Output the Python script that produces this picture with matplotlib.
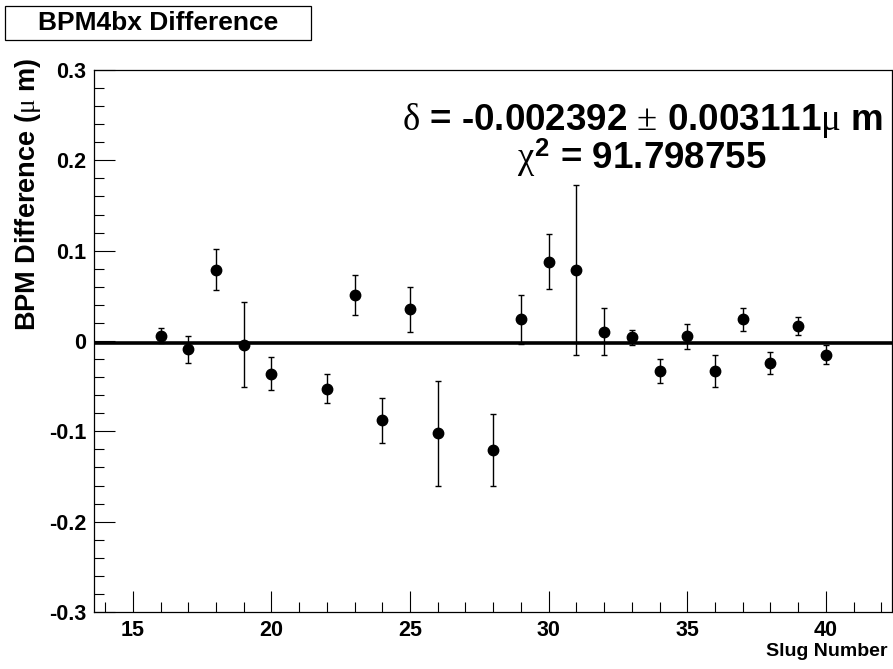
import matplotlib
matplotlib.use("Agg")
import matplotlib.pyplot as plt
from matplotlib.patches import Rectangle
from matplotlib.ticker import MultipleLocator, FixedLocator

# slug data
slug = [16, 17, 18, 19, 20, 22, 23, 24, 25, 26, 28, 29, 30, 31, 32, 33, 34, 35, 36, 37, 38, 39, 40]
diff = [0.006, -0.009, 0.079, -0.004, -0.036, -0.053, 0.051, -0.088, 0.035, -0.102, -0.121,
        0.024, 0.088, 0.079, 0.010, 0.004, -0.033, 0.005, -0.033, 0.024, -0.024, 0.017, -0.015]
err = [0.008, 0.015, 0.023, 0.047, 0.018, 0.016, 0.022, 0.025, 0.025, 0.058, 0.040,
       0.027, 0.030, 0.094, 0.026, 0.008, 0.013, 0.014, 0.018, 0.013, 0.012, 0.010, 0.011]
fit_mean = -0.002392
fit_err = 0.003111
chi2 = 91.798755

y_ticks = [-0.3, -0.2, -0.1, 0, 0.1, 0.2, 0.3]
y_labels = ["-0.3", "-0.2", "-0.1", "0", "0.1", "0.2", "0.3"]
x_ticks = [15, 20, 25, 30, 35, 40]

plt.rcParams["font.family"] = "Liberation Sans"
plt.rcParams["mathtext.fontset"] = "custom"
plt.rcParams["mathtext.rm"] = "Liberation Serif:normal"
plt.rcParams["mathtext.it"] = "Liberation Serif:normal"
plt.rcParams["mathtext.bf"] = "Liberation Sans:bold"

W, H = 893, 669
fig = plt.figure(figsize=(W / 100, H / 100), dpi=100)
ax = fig.add_axes([93.5 / W, 1 - 612 / H, (891.5 - 93.5) / W, (612 - 70) / H])

ax.errorbar(slug, diff, yerr=err, fmt="o", color="black", ms=7.5, elinewidth=1,
            capsize=2.5, capthick=1)
ax.axhline(fit_mean, color="black", lw=2.6, zorder=1)

ax.set_xlim(13.58, 42.37)
ax.set_ylim(-0.3, 0.3)
ax.xaxis.set_major_locator(FixedLocator(x_ticks))
ax.xaxis.set_minor_locator(MultipleLocator(1))
ax.set_yticks(y_ticks)
ax.set_yticklabels(y_labels)
ax.yaxis.set_minor_locator(MultipleLocator(0.02))
ax.tick_params(which="both", direction="in", top=False, right=False, width=0.8,
               labelsize=15.5)
ax.tick_params(which="major", length=15)
ax.tick_params(which="minor", length=7.5)
ax.tick_params(axis="y", pad=5)
ax.tick_params(axis="x", pad=6)
for lbl in ax.get_xticklabels() + ax.get_yticklabels():
    lbl.set_fontweight("bold")
for s in ax.spines.values():
    s.set_linewidth(0.9)

fig.text(888 / W, 1 - 652 / H, "Slug Number", ha="right", va="center", fontsize=14,
         fontweight="bold")
fig.text(28 / W, 1 - 58 / H, r"BPM Difference ($\mu$ m)", rotation=90, ha="center",
         va="top", fontsize=19.5, fontweight="bold")

fig.text(642 / W, 1 - 130 / H,
         r"$\delta$ = %.6f $\pm$ %.6f$\mu$ m" % (fit_mean, fit_err),
         ha="center", va="baseline", fontsize=26.5, fontweight="bold")
fig.text(642 / W, 1 - 169 / H, r"$\chi^{\mathbf{2}}$ = %.6f" % chi2,
         ha="center", va="baseline", fontsize=26.5, fontweight="bold")

fig.patches.append(Rectangle((5 / W, 1 - 40 / H), 306 / W, 34 / H, transform=fig.transFigure,
                             fill=False, edgecolor="black", lw=0.9))
fig.text(158 / W, 1 - 23.5 / H, "BPM4bx Difference", ha="center", va="center",
         fontsize=19, fontweight="bold")

fig.savefig("out.png", dpi=100)
